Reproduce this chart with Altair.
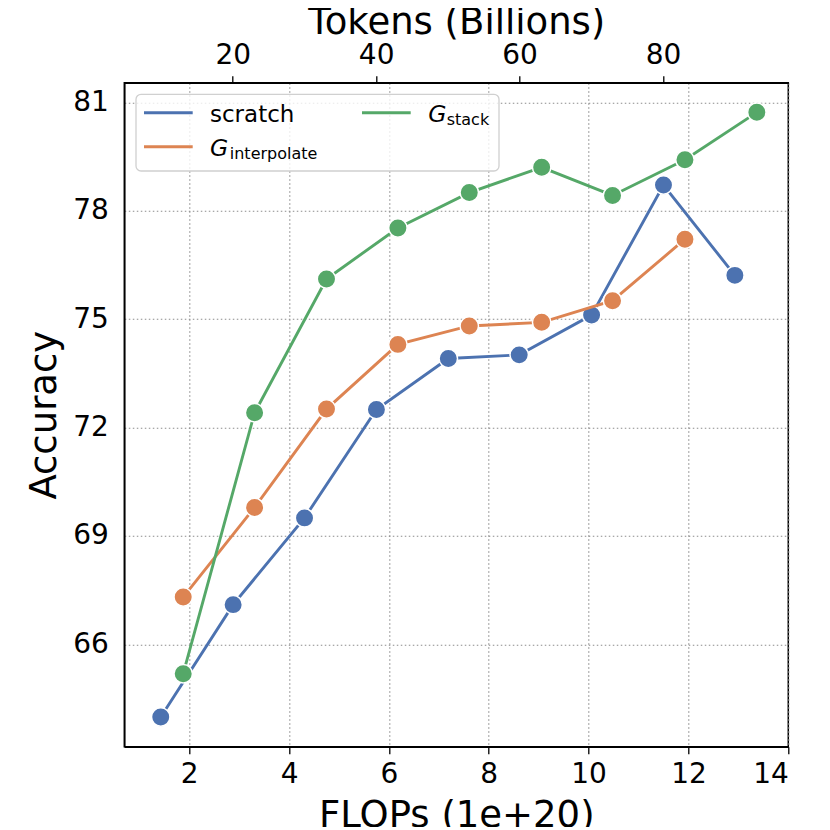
import altair as alt
import pandas as pd

# ---- data ----
scratch_flops = [1.43, 2.88, 4.31, 5.75, 7.19, 8.61, 10.06, 11.50, 12.93]
scratch_acc = [63.99, 67.10, 69.50, 72.50, 73.91, 74.01, 75.11, 78.71, 76.21]

interp_flops = [1.88, 3.31, 4.75, 6.18, 7.61, 9.06, 10.48, 11.93]
interp_acc = [67.31, 69.79, 72.51, 74.30, 74.81, 74.91, 75.51, 77.21]

stack_flops = [1.88, 3.31, 4.75, 6.18, 7.61, 9.06, 10.48, 11.93, 13.37]
stack_acc = [65.19, 72.41, 76.11, 77.52, 78.50, 79.20, 78.42, 79.41, 80.72]

x_ticks = [2, 4, 6, 8, 10, 12, 14]
y_ticks = [66, 69, 72, 75, 78, 81]
token_ticks = [20, 40, 60, 80]
TOKENS_PER_FLOP = 6.963  # billions of tokens per 1e20 FLOPs

colors = ["#4C72B0", "#DD8452", "#55A868"]

x_domain = [0.7, 14.0]
y_domain = [63.17, 81.54]
tok_domain = [x_domain[0] * TOKENS_PER_FLOP, x_domain[1] * TOKENS_PER_FLOP]

W = 664
H = 664
FONT = "DejaVu Sans"
LW = 2.9

xscale = alt.Scale(domain=x_domain, nice=False, zero=False)
yscale = alt.Scale(domain=y_domain, nice=False, zero=False)

x_axis = alt.Axis(values=x_ticks, title="FLOPs (1e+20)", orient="bottom", grid=True,
                  tickSize=7, labelPadding=7, titleX=W / 2, titleY=80,
                  titleBaseline="alphabetic", titleAlign="center")
y_axis = alt.Axis(values=y_ticks, title="Accuracy", grid=True, ticks=False,
                  labelPadding=16, titleX=-69, titleY=H / 2, titleAngle=-90,
                  titleBaseline="alphabetic", titleAlign="center")


def series_layers(fl, acc, color):
    d = pd.DataFrame({"flops": fl, "acc": acc})
    base = alt.Chart(d).encode(
        x=alt.X("flops:Q", scale=xscale, axis=x_axis),
        y=alt.Y("acc:Q", scale=yscale, axis=y_axis),
    )
    line = base.mark_line(color=color, strokeWidth=LW)
    pts = base.mark_point(filled=True, shape="circle", size=340, color=color,
                          stroke="white", strokeWidth=1.5, opacity=1)
    return [line, pts]


inner = alt.layer(
    *series_layers(scratch_flops, scratch_acc, colors[0]),
    *series_layers(interp_flops, interp_acc, colors[1]),
    *series_layers(stack_flops, stack_acc, colors[2]),
)

tok_df = pd.DataFrame({"tokens": token_ticks})
top = alt.Chart(tok_df).mark_point(opacity=0).encode(
    x=alt.X("tokens:Q", scale=alt.Scale(domain=tok_domain, nice=False, zero=False),
            axis=alt.Axis(orient="top", values=token_ticks, title="Tokens (Billions)",
                          grid=False, tickSize=7, labelPadding=6,
                          titleX=W / 2, titleY=-49.4, titleBaseline="alphabetic",
                          titleAlign="center")),
    y=alt.value(0),
)

# ---- hand-built legend (for the G subscripts) ----
one = alt.Data(values=[{}])
box = alt.Chart(one).mark_rect(fill="white", fillOpacity=0.8, stroke="#d0d0d0",
                               strokeWidth=1.3, cornerRadius=5).encode(
    x=alt.value(11.7), x2=alt.value(374.7), y=alt.value(11.6), y2=alt.value(88.3))


def leg_line(x0, y0, color):
    return alt.Chart(one).mark_rule(color=color, strokeWidth=LW).encode(
        x=alt.value(x0), x2=alt.value(x0 + 48.7), y=alt.value(y0))


def txt(s, x0, y0, size, italic=False):
    return alt.Chart(one).mark_text(text=s, align="left", baseline="alphabetic",
                                    font=FONT, fontSize=size, color="black",
                                    fontStyle="italic" if italic else "normal").encode(
        x=alt.value(x0), y=alt.value(y0))


legend = [
    box,
    leg_line(19.7, 30, colors[0]),
    leg_line(19.7, 64, colors[1]),
    leg_line(237.7, 30, colors[2]),
    txt("scratch", 85.7, 39, 23),
    txt("G", 85.7, 73.3, 23.5, italic=True),
    txt("interpolate", 105.5, 76.3, 16),
    txt("G", 304, 39, 23.5, italic=True),
    txt("stack", 322.4, 42, 16),
]

chart = alt.layer(inner, top, *legend).resolve_scale(x="independent").properties(
    width=W, height=H,
    autosize=alt.AutoSizeParams(type="none"),
    padding={"left": 116.3, "top": 74.7, "right": 26, "bottom": 80},
    background="white",
).configure_view(stroke="black", strokeWidth=1.5).configure_axis(
    labelFont=FONT, labelFontSize=28, labelColor="black",
    titleFont=FONT, titleFontSize=37, titleColor="black", titleFontWeight="normal",
    tickColor="black", tickWidth=1.3, domainColor="black", domainWidth=1.5,
    gridColor="#8c8c8c", gridDash=[1.5, 2.5], gridWidth=1.1, gridOpacity=1,
)

chart.save("out.html", embed_options={"renderer": "svg", "actions": False})
